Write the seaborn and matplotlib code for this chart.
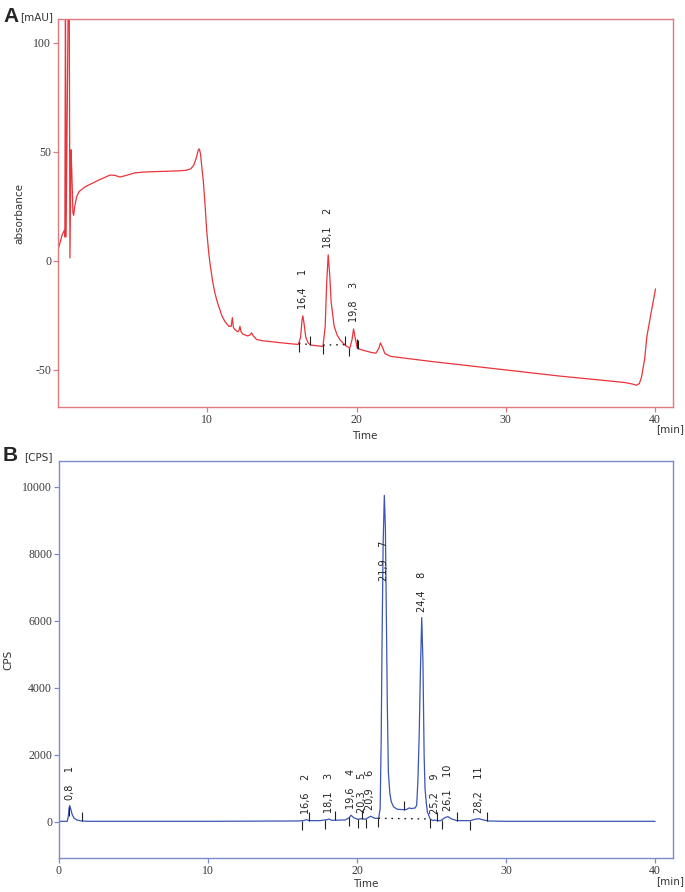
import matplotlib
matplotlib.use("Agg")
import matplotlib.pyplot as plt
import seaborn as sns
import numpy as np
import pandas as pd

# ---- data ----
# panel A: UV trace (time in min, absorbance in mAU)
time_a = [0.0, 0.28, 0.42, 0.46, 0.5, 0.54, 0.7, 0.75, 0.8, 0.87, 0.92, 1.0, 1.05, 1.12,
          1.25, 1.41, 1.81, 2.7, 3.48, 3.8, 4.15, 4.6, 5.15, 5.8, 7.0, 8.0, 8.6, 8.9, 9.1,
          9.25, 9.4, 9.47, 9.55, 9.65, 9.73, 9.85, 9.96, 10.08, 10.18, 10.35, 10.52, 10.7,
          10.85, 11.0, 11.2, 11.45, 11.6, 11.68, 11.75, 11.85, 12.05, 12.13, 12.19, 12.26,
          12.4, 12.7, 12.85, 12.97, 13.1, 13.3, 13.7, 14.5, 15.3, 16.1, 16.25, 16.35, 16.4,
          16.47, 16.6, 16.75, 16.9, 17.3, 17.75, 17.9, 18.0, 18.1, 18.2, 18.3, 18.5, 18.7,
          18.9, 19.3, 19.55, 19.7, 19.8, 19.9, 20.05, 20.4, 21.0, 21.3, 21.5, 21.6, 21.7,
          21.9, 22.3, 25.0, 30.0, 33.6, 37.0, 37.85, 38.0, 38.5, 38.77, 38.95, 39.1, 39.3,
          39.45, 39.7, 40.03]
absorbance_a = [5, 12, 14, 11, 130, 11, 130, 130, 1.4, 51, 42, 22, 21, 25,
                29.5, 31.8, 34, 37, 39.4, 39.3, 38.5, 39.3, 40.4, 40.8, 41.1, 41.3, 41.6, 42.3, 44,
                47, 51, 51.4, 49, 42, 37, 26, 14, 5, -1, -9, -15, -19.5,
                -22.5, -25.5, -28, -30, -30, -26, -30.5, -31.5, -32.5, -31.8, -30, -32.5,
                -33.6, -34.4, -34, -33, -34.5, -36, -36.6, -37.2, -37.8, -38.3, -35, -27, -25.2,
                -28, -35, -37.5, -38.5, -38.9, -39.2, -30, -10, 2.8, -6, -19, -30, -34,
                -36.3, -39, -40, -36, -31.2, -35, -40, -40.9, -42.0, -42.3, -40, -37.6, -39,
                -42.5, -43.8, -46.1, -50, -52.8, -55.1, -55.7, -55.8, -56.5, -57, -56.2, -53, -45,
                -34.7, -25, -12.8]
peaks_a_rt = [16.4, 18.1, 19.8]
peaks_a_no = [1, 2, 3]
ticks_a_down = [16.13, 17.76, 19.5]
ticks_a_up = [16.91, 19.21, 20.06, 20.12]
baseline_a = [(16.13, 16.91), (17.76, 19.21)]

# panel B: MS trace (time in min, CPS)
time_b = [0.0, 0.55, 0.62, 0.68, 0.72, 0.78, 0.88, 1.0, 1.2, 1.5, 2.0, 10.0, 16.0, 16.4,
          16.6, 16.8, 17.5, 18.0, 18.1, 18.3, 19.2, 19.45, 19.6, 19.8, 20.05, 20.3, 20.55,
          20.9, 21.2, 21.45, 21.55, 21.62, 21.68, 21.75, 21.83, 21.9, 21.97, 22.03, 22.1,
          22.2, 22.3, 22.45, 22.7, 23.0, 23.3, 23.5, 23.65, 23.9, 24.0, 24.08, 24.17, 24.25,
          24.34, 24.42, 24.5, 24.56, 24.65, 24.72, 24.9, 25.1, 25.2, 25.35, 25.6, 25.9,
          26.1, 26.35, 26.7, 27.6, 27.9, 28.15, 28.4, 28.8, 30.0, 40.0]
cps_b = [20, 20, 150, 420, 490, 400, 230, 120, 60, 30, 20, 20, 30, 40,
         70, 40, 40, 70, 90, 50, 60, 120, 200, 120, 80, 100, 80,
         170, 110, 110, 400, 2500, 5500, 8300, 9750, 8800, 6000, 3500, 1500,
         850, 600, 450, 380, 370, 370, 420, 400, 420, 500, 1200, 2600, 4500,
         6100, 4800, 2000, 1000, 550, 300, 90, 40, 60, 40, 40, 130,
         160, 90, 40, 40, 80, 100, 70, 30, 20, 20]
peaks_b_rt = [0.8, 16.6, 18.1, 19.6, 20.3, 20.9, 21.9, 24.4, 25.2, 26.1, 28.2]
peaks_b_no = [1, 2, 3, 4, 5, 6, 7, 8, 9, 10, 11]
ticks_b_down = [0.69, 16.33, 17.85, 19.48, 20.05, 20.6, 21.43, 24.9, 25.68, 27.58]
ticks_b_up = [1.56, 16.8, 18.52, 20.3, 23.15, 25.39, 26.69, 28.7]
baseline_b = [(21.43, 24.9)]

W, H = 685, 892
plt.rcParams['axes.unicode_minus'] = False
sns.set_style("white")
plt.rcParams['font.family'] = ['DejaVu Sans']

fig = plt.figure(figsize=(W / 100, H / 100), dpi=100)


def px_axes(l, t, r, b):
    return fig.add_axes([l / W, 1 - b / H, (r - l) / W, (b - t) / H])


def style_axes(ax, spine_col, xlim, ylim, yticks, xticks):
    ax.set_xlim(*xlim)
    ax.set_ylim(*ylim)
    ax.set_xticks(xticks)
    ax.set_yticks(yticks)
    for s in ax.spines.values():
        s.set_color(spine_col)
        s.set_linewidth(1.0)
    ax.tick_params(direction='out', length=3.5, width=0.9, color=spine_col,
                   labelcolor='#3a3a3a', labelsize=8.5, pad=1.5,
                   bottom=True, left=True)
    for lab in ax.get_xticklabels() + ax.get_yticklabels():
        lab.set_fontfamily('Liberation Serif')
    ax.grid(False)


def draw_chrom(ax, t, v, col, rts, nums, pad, cap, down, up, tick_len, bases):
    df = pd.DataFrame({'t': t, 'v': v})
    sns.lineplot(data=df, x='t', y='v', ax=ax, color=col, linewidth=0.9,
                 estimator=None, sort=False)
    t = np.asarray(t, float)
    v = np.asarray(v, float)
    # integration marks
    for x in down:
        y0 = np.interp(x, t, v)
        ax.vlines(x, y0 - tick_len, y0, color='#222222', lw=0.8)
    for x in up:
        y0 = np.interp(x, t, v)
        ax.vlines(x, y0, y0 + tick_len, color='#222222', lw=0.8)
    for x0, x1 in bases:
        ax.plot([x0, x1], [np.interp(x0, t, v), np.interp(x1, t, v)], color='#222222',
                lw=1.0, linestyle=(0, (1.2, 3.5)))
    # peak labels
    for rt, n in zip(rts, nums):
        m = (t >= rt - 0.15) & (t <= rt + 0.15)
        i = np.argmax(np.where(m, v, -np.inf))
        y = min(v[i] + pad, cap)
        ax.text(t[i], y, f"{rt:.1f}".replace('.', ',') + "    " + str(n), rotation=90,
                ha='center', va='bottom', fontsize=7, color='#222222')
    ax.set_xlabel('')
    ax.set_ylabel('')


# ---- panel A ----
axA = px_axes(58, 19, 673, 407)
draw_chrom(axA, time_a, absorbance_a, '#e8343a', peaks_a_rt, peaks_a_no, 3.0, np.inf,
           ticks_a_down, ticks_a_up, 4.0, baseline_a)
style_axes(axA, '#e07a80', (0, 41.2), (-67, 111), [-50, 0, 50, 100], [10, 20, 30, 40])

# ---- panel B ----
axB = px_axes(59, 461, 673, 858)
draw_chrom(axB, time_b, cps_b, '#3a55b5', peaks_b_rt, peaks_b_no, 180, 7200,
           ticks_b_down, ticks_b_up, 270, baseline_b)
style_axes(axB, '#7b8cc8', (0, 41.2), (-1075, 10775), [0, 2000, 4000, 6000, 8000, 10000],
           [0, 10, 20, 30, 40])


def ftext(x, y, s, **kw):
    fig.text(x / W, 1 - y / H, s, **kw)


ftext(3, 7, 'A', fontsize=15, fontweight='bold', family='Liberation Sans', va='top')
ftext(53, 12, '[mAU]', fontsize=7.5, ha='right', va='top', color='#333333')
ftext(19, 213, 'absorbance', fontsize=7.5, rotation=90, ha='center', va='center', color='#333333')
ftext(365, 431, 'Time', fontsize=7.5, ha='center', va='top', color='#333333')
ftext(684, 424, '[min]', fontsize=7.5, ha='right', va='top', color='#333333')

ftext(3, 446, 'B', fontsize=15, fontweight='bold', family='Liberation Sans', va='top')
ftext(53, 452, '[CPS]', fontsize=7.5, ha='right', va='top', color='#333333')
ftext(8, 660, 'CPS', fontsize=7.5, rotation=90, ha='center', va='center', color='#333333')
ftext(366, 879, 'Time', fontsize=7.5, ha='center', va='top', color='#333333')
ftext(684, 876, '[min]', fontsize=7.5, ha='right', va='top', color='#333333')

plt.savefig('out.png', dpi=100)
